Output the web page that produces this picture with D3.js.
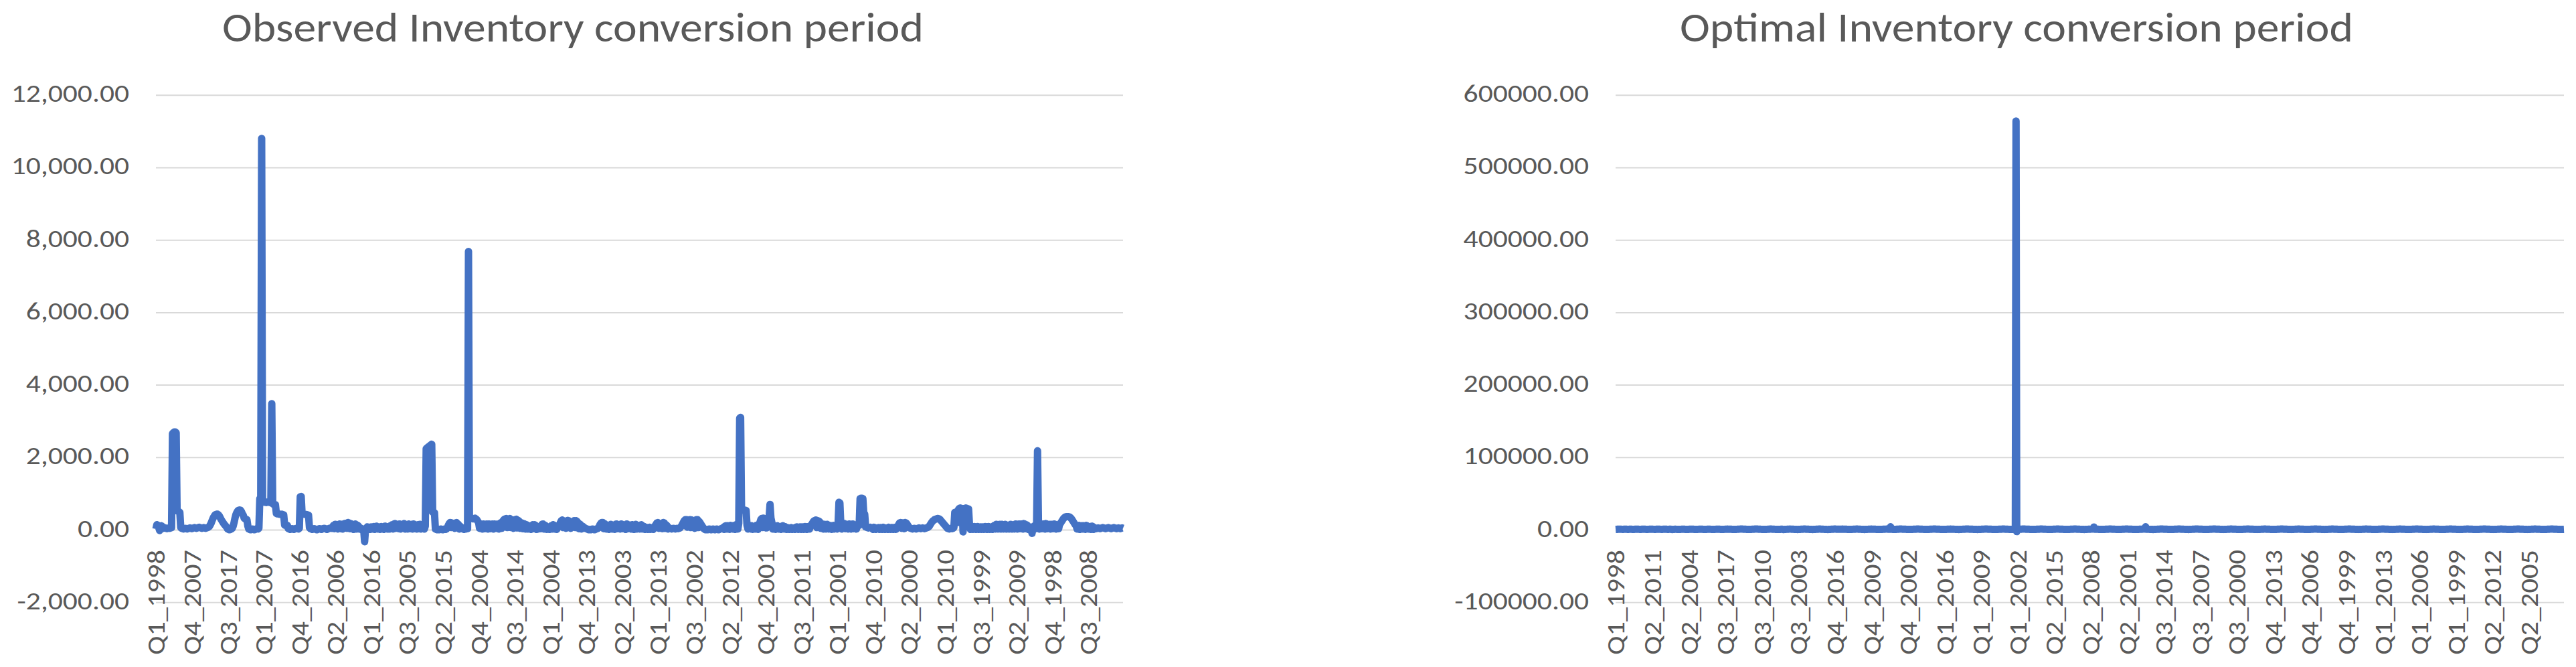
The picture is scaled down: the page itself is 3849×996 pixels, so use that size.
<!DOCTYPE html>
<html>
<head>
<meta charset="utf-8">
<script src="https://cdn.jsdelivr.net/npm/d3@7"></script>
<style>
  html, body { margin: 0; padding: 0; background: #fff; }
  svg { display: block; }
</style>
</head>
<body>
<svg id="chart" width="3849" height="996"></svg>
<script>
// quarters 1998 Q1 .. 2018 Q1, repeated once per firm
const years = [1998, 1999, 2000, 2001, 2002, 2003, 2004, 2005, 2006, 2007, 2008,
  2009, 2010, 2011, 2012, 2013, 2014, 2015, 2016, 2017, 2018];
const quarters = ['Q1', 'Q2', 'Q3', 'Q4'];

// observed inventory conversion period, 13 firms x 81 quarters
const observedValues = [
  20,140,130,60,-20,30,110,90,40,60,50,40,30,40,50,40,50,60,2650,2680,2700,2700,2680,520,510,500,480,60,40,30,20,30,40,30,20,30,40,50,40,30,40,50,60,50,40,50,60,70,60,50,40,50,60,50,40,50,60,70,90,130,180,250,310,360,400,420,430,430,410,380,330,280,240,200,160,130,100,70,20,10,0,
  10,20,40,100,200,320,420,480,520,540,545,540,500,440,400,320,300,290,280,100,20,10,0,10,20,10,0,10,20,30,20,40,860,850,10800,780,770,760,760,750,760,770,760,750,760,3480,720,700,700,690,450,440,440,430,430,420,430,420,410,130,120,110,120,30,20,10,20,30,20,10,20,30,40,30,20,40,910,920,440,440,430,
  430,420,420,410,400,60,30,20,10,20,30,20,10,0,10,20,30,20,10,20,30,40,30,20,10,20,30,40,50,40,60,120,30,150,40,140,20,120,160,30,150,20,130,170,50,180,40,200,190,30,170,50,130,10,140,160,20,130,110,20,60,10,30,20,10,-330,20,40,80,10,60,10,80,70,20,90,10,70,100,20,80,
  70,10,90,20,80,10,100,30,90,20,70,20,110,30,140,20,160,170,40,150,150,30,160,20,130,150,40,170,20,130,140,20,160,130,30,150,20,160,150,30,130,20,140,30,150,20,110,30,90,20,100,2240,2260,2280,2300,2320,2340,2360,490,480,470,20,10,0,10,0,10,20,10,0,10,20,10,20,60,120,170,200,60,190,170,
  150,40,190,200,60,150,20,100,30,60,50,10,50,20,80,30,7680,340,330,320,310,300,310,320,300,280,240,200,40,150,160,20,160,150,30,150,160,20,160,150,30,150,160,20,160,150,40,150,160,20,180,190,40,230,260,290,300,310,60,290,300,310,60,280,260,40,260,280,290,50,260,240,40,200,190,30,170,160,20,140,130,
  20,90,80,10,120,140,30,140,120,10,80,20,80,100,30,150,160,20,130,110,10,70,60,10,90,110,20,140,130,20,90,10,60,90,140,200,250,270,60,240,220,40,250,260,250,230,40,180,190,220,250,60,250,230,200,30,160,140,20,100,80,60,40,30,20,10,0,10,0,10,20,10,0,10,20,30,40,80,140,180,200,
  200,30,170,150,20,100,90,10,140,150,20,120,110,10,150,160,30,130,120,20,160,150,30,110,120,10,160,150,30,120,130,20,140,120,10,130,150,20,120,100,20,130,140,20,100,90,10,70,60,10,60,70,10,50,60,10,80,110,150,190,200,40,170,150,160,30,200,190,40,140,110,20,60,40,30,20,30,40,30,20,30,
  40,30,40,50,80,120,170,220,260,280,280,70,260,270,280,60,270,250,230,40,260,280,280,60,230,190,150,110,70,30,10,0,10,0,10,20,10,0,10,20,10,0,10,20,10,0,10,20,30,40,60,10,100,110,20,110,100,10,120,110,20,110,120,10,140,130,20,180,3080,3100,550,550,545,540,540,530,120,20,100,110,20,
  110,10,90,100,20,120,110,10,150,200,280,310,60,320,310,300,50,320,330,330,700,320,200,20,120,100,10,100,110,20,90,80,10,100,110,20,90,80,10,60,50,10,50,60,10,40,50,10,70,80,70,10,70,80,10,80,70,10,90,80,10,80,90,20,110,140,180,220,250,260,270,60,250,240,220,40,170,150,20,150,140,
  20,150,140,20,120,110,10,110,120,20,100,110,20,130,760,740,150,20,150,160,170,30,150,140,20,160,150,20,150,160,30,140,130,20,130,140,120,860,870,870,860,440,430,80,70,60,50,60,70,60,50,10,70,60,10,40,50,60,10,60,50,10,70,60,10,40,50,10,70,60,10,60,60,10,60,70,10,70,100,150,190,
  200,40,190,180,30,200,190,160,120,80,50,40,30,20,30,40,30,20,30,40,50,40,30,40,50,40,30,40,50,60,70,90,130,170,210,240,260,280,290,300,310,310,300,280,250,220,190,160,130,100,70,40,30,20,30,40,30,40,60,480,490,480,200,560,590,600,590,580,-60,580,590,600,590,580,570,120,10,80,70,10,90,
  80,10,80,90,10,70,80,10,80,70,10,90,80,10,80,90,10,70,80,10,100,120,20,150,140,20,140,150,20,150,140,20,140,150,20,130,120,20,140,150,20,130,140,20,160,150,20,150,160,30,160,150,20,170,160,30,140,120,10,80,60,20,-100,40,100,20,140,150,2180,170,20,150,160,30,160,150,20,170,160,30,140,
  150,20,150,140,30,160,150,20,130,140,30,160,180,220,260,300,330,350,360,360,360,360,350,330,300,260,220,180,140,110,20,110,120,10,100,110,20,110,100,10,120,110,20,90,80,10,100,90,10,60,40,30,40,50,40,30,40,50,60,50,40,30,40,50,60,50,40,30,40,50,60,50,40,30,40,50,40,30,40,50,40
];

// optimal inventory conversion period, 17 firms x 81 quarters
const optimalValues = [
  540,610,580,720,690,650,800,760,700,640,590,620,680,730,770,710,660,600,560,610,650,700,740,690,630,580,540,600,660,720,780,820,760,700,650,610,580,630,690,740,790,750,700,660,620,580,540,590,640,700,760,810,770,720,680,640,600,560,610,660,710,760,800,750,700,650,610,570,620,670,720,770,730,690,650,610,580,620,660,700,740,
  420,380,450,520,600,680,720,650,580,510,470,430,490,560,640,700,760,820,780,700,620,560,500,460,520,590,660,730,800,870,820,760,690,620,560,510,470,520,580,650,720,790,850,800,740,680,620,570,530,490,540,600,670,740,810,760,700,640,580,530,480,440,500,570,640,710,780,840,790,730,670,610,560,510,470,520,580,640,700,760,720,
  900,860,820,780,740,700,660,620,580,540,500,460,520,580,640,700,760,820,880,940,1000,960,910,860,810,760,710,660,610,560,510,470,430,480,540,600,660,720,780,840,900,950,1000,950,900,850,800,750,700,650,600,550,500,460,420,470,530,590,650,710,770,830,890,940,900,850,800,750,700,650,600,550,510,470,430,480,540,600,660,720,780,
  350,400,460,520,580,640,700,760,820,870,920,870,820,770,720,670,620,570,520,470,430,390,440,500,560,620,680,740,800,860,910,960,910,860,810,760,710,660,610,560,510,460,420,380,430,490,550,610,670,730,790,850,900,950,900,850,800,750,700,650,600,550,500,450,410,370,420,480,540,600,660,720,780,840,890,940,890,840,790,740,690,
  650,700,750,800,850,900,860,820,780,740,700,660,620,580,540,500,460,500,550,600,650,700,750,800,850,900,950,900,850,800,750,700,650,600,550,500,450,400,450,500,550,600,650,700,750,800,850,900,860,820,780,740,700,660,620,580,540,500,460,420,470,520,570,620,670,720,770,820,870,920,880,840,800,760,720,4200,700,660,620,580,540,
  500,560,620,680,740,800,860,920,980,940,900,860,820,780,740,700,660,620,580,540,500,460,420,460,510,560,610,660,710,760,810,860,910,960,920,880,840,800,760,720,680,640,600,560,520,480,440,480,530,580,630,680,730,780,830,880,930,980,940,900,860,820,780,740,700,660,620,580,540,500,460,420,460,510,560,610,660,710,760,810,860,
  880,840,800,760,720,680,640,600,560,520,480,440,400,440,490,540,590,640,690,740,790,840,890,940,990,950,910,870,830,790,750,710,670,630,590,550,510,470,430,390,430,480,530,580,630,680,730,780,830,880,930,980,940,900,860,820,780,740,700,660,620,580,540,500,460,420,460,510,560,610,660,710,760,810,860,910,960,920,880,840,800,
  760,720,680,640,600,560,520,480,440,480,530,580,630,680,564000,-2500,620,660,700,740,780,820,860,900,940,980,940,900,860,820,780,740,700,660,620,580,540,500,460,420,460,510,560,610,660,710,760,810,860,910,960,920,880,840,800,760,720,680,640,600,560,520,480,440,480,530,580,630,680,730,780,830,880,930,980,940,900,860,820,780,740,
  700,660,620,580,540,500,460,420,460,510,560,610,660,710,760,810,860,910,960,920,880,840,800,760,720,680,640,600,560,520,480,440,400,440,490,540,590,640,690,740,790,840,890,940,980,940,3800,860,820,780,740,700,660,620,580,540,500,460,420,460,510,560,610,660,710,760,810,860,910,960,920,880,840,800,760,720,680,640,600,560,520,
  480,440,480,530,580,630,680,730,780,830,880,930,980,940,900,860,820,780,740,700,660,620,580,540,500,460,420,460,510,560,610,660,710,760,810,860,910,960,920,880,4200,800,760,720,680,640,600,560,520,480,440,400,440,490,540,590,640,690,740,790,840,890,940,980,940,900,860,820,780,740,700,660,620,580,540,500,460,420,460,510,560,
  610,660,710,760,810,860,910,960,920,880,840,800,760,720,680,640,600,560,520,480,440,400,440,490,540,590,640,690,740,790,840,890,940,990,950,910,870,830,790,750,710,670,630,590,550,510,470,430,470,520,570,620,670,720,770,820,870,920,970,930,890,850,810,770,730,690,650,610,570,530,490,450,410,450,500,550,600,650,700,750,800,
  850,900,950,910,870,830,790,750,710,670,630,590,550,510,470,430,470,520,570,620,670,720,770,820,870,920,970,930,890,850,810,770,730,690,650,610,570,530,490,450,410,450,500,550,600,650,700,750,800,850,900,950,910,870,830,790,750,710,670,630,590,550,510,470,430,470,520,570,620,670,720,770,820,870,920,970,930,890,850,810,770,
  730,690,650,610,570,530,490,450,410,450,500,550,600,650,700,750,800,850,900,950,910,870,830,790,750,710,670,630,590,550,510,470,430,470,520,570,620,670,720,770,820,870,920,970,930,890,850,810,770,730,690,650,610,570,530,490,450,410,450,500,550,600,650,700,750,800,850,900,950,910,870,830,790,750,710,670,630,590,550,510,470,
  430,470,520,570,620,670,720,770,820,870,920,970,930,890,850,810,770,730,690,650,610,570,530,490,450,410,450,500,550,600,650,700,750,800,850,900,950,910,870,830,790,750,710,670,630,590,550,510,470,430,470,520,570,620,670,720,770,820,870,920,970,930,890,850,810,770,730,690,650,610,570,530,490,450,410,450,500,550,600,650,700,
  750,800,850,900,950,910,870,830,790,750,710,670,630,590,550,510,470,430,470,520,570,620,670,720,770,820,870,920,970,930,890,850,810,770,730,690,650,610,570,530,490,450,410,450,500,550,600,650,700,750,800,850,900,950,910,870,830,790,750,710,670,630,590,550,510,470,430,470,520,570,620,670,720,770,820,870,920,970,930,890,850,
  810,770,730,690,650,610,570,530,490,450,410,450,500,550,600,650,700,750,800,850,900,950,910,870,830,790,750,710,670,630,590,550,510,470,430,470,520,570,620,670,720,770,820,870,920,970,930,890,850,810,770,730,690,650,610,570,530,490,450,410,450,500,550,600,650,700,750,800,850,900,950,910,870,830,790,750,710,670,630,590,550,
  510,470,430,470,520,570,620,670,720,770,820,870,920,970,930,890,850,810,770,730,690,650,610,570,530,490,450,410,450,500,550,600,650,700,750,800,850,900,950,910,870,830,790,750,710,670,630,590,550,510,470,430,470,520,570,620,670,720,770,820,870,920,970,930,890,850,810,770,730,690,650,610,570,530,490,450,410,450,500,550,600
];

const observedTicks = [-2000, 0, 2000, 4000, 6000, 8000, 10000, 12000];
const optimalTicks = [-100000, 0, 100000, 200000, 300000, 400000, 500000, 600000];

// build the quarter labels of one firm, Q1_1998 .. Q1_2018
const periods = [];
years.forEach(yr => quarters.forEach(q => periods.push(q + '_' + yr)));
periods.length = 81;

const svg = d3.select('#chart');
svg.append('rect').attr('width', 3849).attr('height', 996).attr('fill', '#fff');

const fontStack = 'Calibri, Carlito, Lato, sans-serif';
const textColor = '#595959';

// Excel writes a plain hyphen for negatives
const locale = d3.formatLocale({ decimal: '.', thousands: ',', grouping: [3], currency: ['', ''], minus: '-' });

// approximate Calibri advance widths (em) so labels keep the original size
const calibriEm = { ',': 0.250, '.': 0.252, '-': 0.306, 'Q': 0.662, '_': 0.498 };
function labelLength(s, size) {
  return d3.sum(s.split(''), c => calibriEm[c] !== undefined ? calibriEm[c] : 0.507) * size;
}

function drawPanel(cfg) {
  const n = cfg.values.length;
  const categories = cfg.values.map((v, i) => periods[i % 81]);
  const g = svg.append('g');

  const x = d3.scaleLinear().domain([0, n - 1]).range([cfg.left, cfg.right]);
  const y = d3.scaleLinear()
    .domain([cfg.ticks[0], cfg.ticks[cfg.ticks.length - 1]])
    .range([cfg.bottom, cfg.top]);

  // gridlines + value labels
  g.append('g')
    .attr('transform', 'translate(' + cfg.left + ',0)')
    .call(d3.axisLeft(y).tickValues(cfg.ticks).tickSize(-(cfg.right - cfg.left))
      .tickPadding(40).tickFormat(cfg.format))
    .call(a => a.select('.domain').remove())
    .call(a => a.attr('font-size', null).attr('font-family', null))
    .call(a => a.selectAll('line').attr('stroke', '#d9d9d9').attr('stroke-width', 2))
    .call(a => a.selectAll('text')
      .attr('dy', null).attr('y', 10)
      .attr('fill', textColor).attr('font-family', fontStack).attr('font-size', 37)
      .attr('textLength', function () { return labelLength(this.textContent, 43.5); })
      .attr('lengthAdjust', 'spacingAndGlyphs'));

  // category labels hang below the zero line
  g.append('g')
    .attr('transform', 'translate(0,' + y(0) + ')')
    .call(d3.axisBottom(x).tickValues(d3.range(0, n, cfg.step))
      .tickFormat(i => categories[i]).tickSize(0))
    .call(a => a.select('.domain').remove())
    .call(a => a.attr('font-size', null).attr('font-family', null))
    .call(a => a.selectAll('text')
      .attr('transform', 'rotate(-90)')
      .attr('x', -30).attr('y', 0).attr('dy', '0.35em')
      .attr('text-anchor', 'end')
      .attr('fill', textColor).attr('font-family', fontStack).attr('font-size', 37)
      .attr('textLength', function () { return labelLength(this.textContent, 42.5); })
      .attr('lengthAdjust', 'spacingAndGlyphs'));

  const line = d3.line().x((d, i) => x(i)).y(d => y(d));
  g.append('path')
    .datum(cfg.values)
    .attr('d', line)
    .attr('fill', 'none')
    .attr('stroke', '#4472c4')
    .attr('stroke-width', 11)
    .attr('stroke-linejoin', 'round')
    .attr('stroke-linecap', 'butt');

  g.append('text')
    .attr('x', cfg.titleX).attr('y', 62)
    .attr('text-anchor', 'middle')
    .attr('fill', textColor).attr('font-family', fontStack).attr('font-size', 61)
    .attr('font-weight', 300)
    .attr('textLength', cfg.titleWidth).attr('lengthAdjust', 'spacingAndGlyphs')
    .text(cfg.title);
}

drawPanel({
  title: 'Observed Inventory conversion period', titleX: 856, titleWidth: 1048,
  values: observedValues, ticks: observedTicks, format: locale.format(',.2f'), step: 39,
  left: 233, right: 1678, top: 141.7, bottom: 899.3
});

drawPanel({
  title: 'Optimal Inventory conversion period', titleX: 3013, titleWidth: 1006,
  values: optimalValues, ticks: optimalTicks, format: locale.format('.2f'), step: 53,
  left: 2414, right: 3831, top: 141.7, bottom: 899.3
});
</script>
</body>
</html>
